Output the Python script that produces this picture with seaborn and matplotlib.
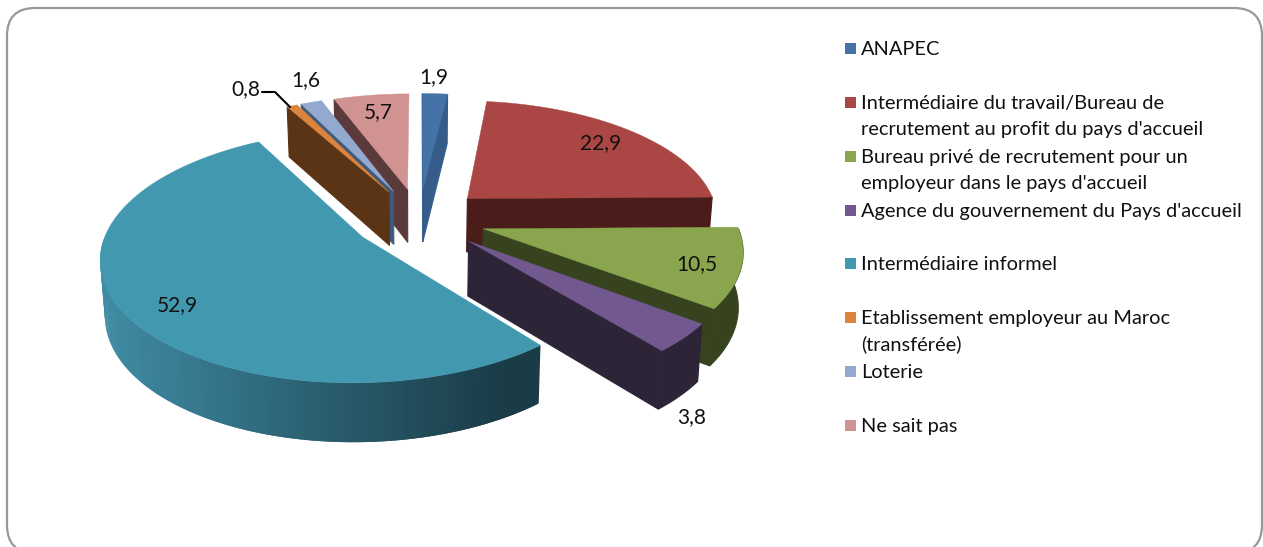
import matplotlib
matplotlib.use('Agg')
import matplotlib.pyplot as plt
import numpy as np
import seaborn as sns
from matplotlib.patches import FancyBboxPatch, Rectangle

categories = ['ANAPEC',
              'Intermédiaire du travail/Bureau de\nrecrutement au profit du pays d\'accueil',
              'Bureau privé de recrutement pour un\nemployeur dans le pays d\'accueil',
              'Agence du gouvernement du Pays d\'accueil',
              'Intermédiaire informel',
              'Etablissement employeur au Maroc\n(transférée)',
              'Loterie',
              'Ne sait pas']
values = [1.9, 22.9, 10.5, 3.8, 52.9, 0.8, 1.6, 5.7]
top_colors = ['#4572a7', '#aa4643', '#89a54e', '#71588f', '#4198af', '#db843d', '#93a9cf', '#d19392']
wall_colors = ['#365d8a', '#4a1c1a', '#37421f', '#2d2438', '#1a3c47', '#5b3415', '#405a7a', '#5a3a3a']

# layout of the pie in pixels
CX, CY = 419, 219
RX, RY = 252, 118
PERSP = 0.15
EXPLODE = 0.265
DEPTH = 54

# legend rows and data labels, in pixels
legend_y = [49, 103, 157, 211, 264, 318, 372, 426]
label_xy = [(434, 77), (601, 143), (697, 264), (692, 417), (177, 305), (246, 89), (306, 80), (378, 112)]


def project(u, v, z=0.0):
    # disc coordinates to screen, z=1 is the bottom of the wall
    s = 1 / (1 + PERSP * v)
    x = CX + RX * u * s * (1 - 0.015 * z)
    y = CY - RY * v * s + DEPTH * z * np.sqrt(s)
    return x, y


def wedge_points(t1, t2, offset):
    t = np.radians(np.linspace(t1, t2, max(int(t2 - t1) * 2, 6)))
    return offset[0] + np.sin(t), offset[1] + np.cos(t)


def radial_wall(ax, t, offset, color, zo):
    u = np.array([offset[0], offset[0] + np.sin(np.radians(t))])
    v = np.array([offset[1], offset[1] + np.cos(np.radians(t))])
    x1, y1 = project(u, v)
    x2, y2 = project(u, v, 1)
    ax.fill(np.r_[x1, x2[::-1]], np.r_[y1, y2[::-1]], color=color, lw=0.8, zorder=zo)


def arc_wall(ax, t1, t2, offset, color, zo, gradient=None):
    t1, t2 = max(t1, 90), min(t2, 270)
    if t2 <= t1:
        return
    u, v = wedge_points(t1, t2, offset)
    x1, y1 = project(u, v)
    x2, y2 = project(u, v, 1)
    if gradient is None:
        ax.fill(np.r_[x1, x2[::-1]], np.r_[y1, y2[::-1]], color=color, lw=0.8, zorder=zo)
        return
    # strips so the front wall can get its left to right shading, each one
    # runs under the next so no seams show (right side first, x1 runs that way)
    for i in range(len(x1) - 2):
        pos = np.clip((x1[i] - 100) / 400, 0, 1)
        c = gradient[int(pos * (len(gradient) - 1))]
        ax.fill([x1[i], x1[i + 2], x2[i + 2], x2[i]], [y1[i], y1[i + 2], y2[i + 2], y2[i]],
                color=c, lw=0, zorder=zo)


sns.set_theme(style='white')
plt.rcParams['font.family'] = ['Lato', 'DejaVu Sans']

fig = plt.figure(figsize=(12.63, 5.47), dpi=100)
ax = fig.add_axes([0, 0, 1, 1])
ax.set_xlim(0, 1263)
ax.set_ylim(547, 0)
ax.axis('off')

ax.add_patch(FancyBboxPatch((7, 8), 1255, 545, boxstyle='round,pad=0,rounding_size=28',
                            fc='white', ec='#989898', lw=1.6, zorder=0))

shares = np.array(values) / sum(values) * 360
starts = np.r_[0, np.cumsum(shares)[:-1]]
ends = starts + shares
teal_shade = sns.blend_palette(['#3f8ba3', '#2c6274', '#1a3c47'], 64)

# painter order, back slices first
draw_order = [0, 7, 6, 5, 1, 2, 3, 4]
for n, i in enumerate(draw_order):
    t1, t2 = starts[i], ends[i]
    mid = np.radians((t1 + t2) / 2)
    offset = (EXPLODE * np.sin(mid), EXPLODE * np.cos(mid))
    zo = 2 + n
    if np.cos(np.radians(t1 - 90)) < 0.02:
        radial_wall(ax, t1, offset, wall_colors[i], zo)
    if np.cos(np.radians(t2 + 90)) < 0:
        radial_wall(ax, t2, offset, wall_colors[i], zo)
    arc_wall(ax, t1, t2, offset, wall_colors[i], zo, gradient=teal_shade if i == 4 else None)
    u, v = wedge_points(t1, t2, offset)
    x, y = project(np.r_[offset[0], u], np.r_[offset[1], v])
    ax.fill(x, y, color=top_colors[i], lw=0.3, zorder=zo + 0.5)

for val, (x, y) in zip(values, label_xy):
    ax.text(x, y, f'{val:.1f}'.replace('.', ','), ha='center', va='center',
            fontsize=15, color='#111111', zorder=20)
ax.plot([262, 275, 290], [92, 92, 107], color='black', lw=1.5, zorder=19)

for cat, col, y in zip(categories, top_colors, legend_y):
    ax.add_patch(Rectangle((845, y - 6), 11, 11, fc=col, ec='none'))
    for j, line in enumerate(cat.split('\n')):
        ax.text(861, y + 6 + 26 * j, line, ha='left', va='baseline', fontsize=14.4, color='#111111')

fig.savefig('out.png', dpi=100)
plt.close()
